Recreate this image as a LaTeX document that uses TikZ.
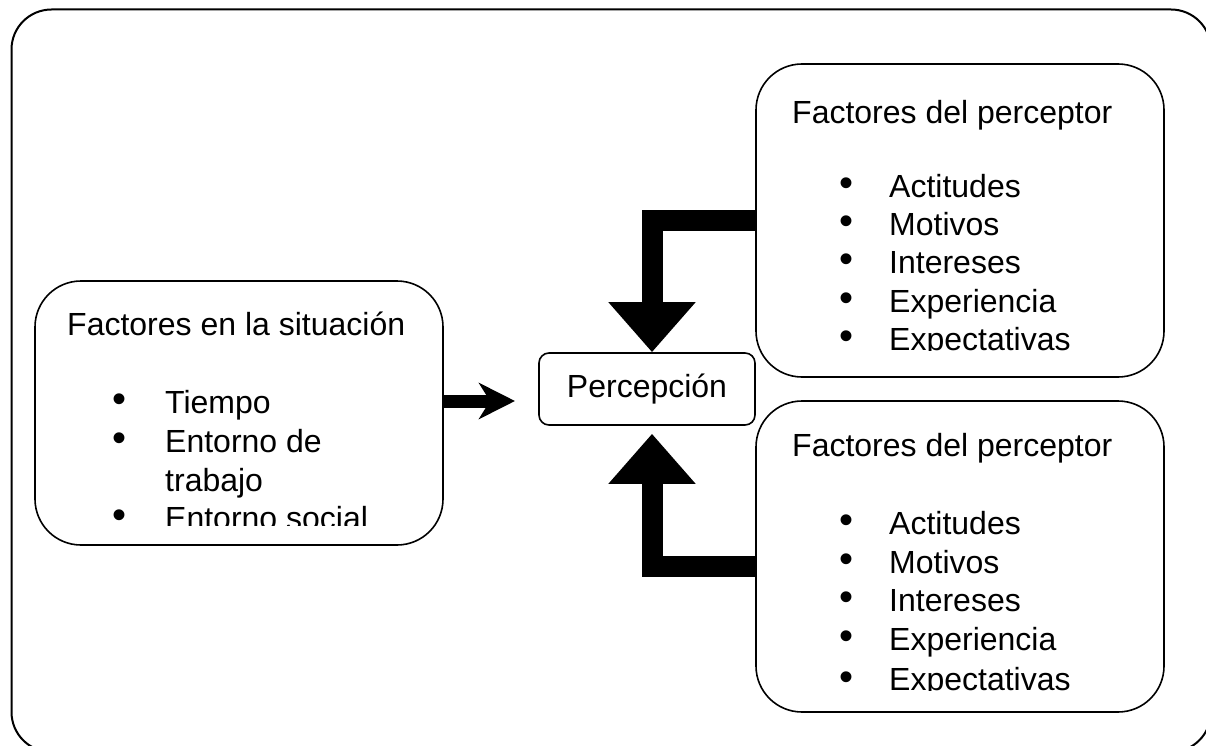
\documentclass[tikz,border=0pt]{standalone}
\usepackage{fontspec}
\setmainfont{Liberation Sans}
\usetikzlibrary{arrows.meta}
\begin{document}
\begin{tikzpicture}[x=1pt,y=-1pt,
  box/.style={draw, line width=1.6pt, rounded corners=46pt, inner sep=0pt},
  txt/.style={anchor=base west, inner sep=0pt, font=\fontsize{32}{38}\selectfont},
  bul/.style={anchor=center, inner sep=0pt, font=\fontsize{40}{40}\selectfont},
  bigarrow/.style={line width=21pt, -{Triangle[length=50pt,width=84pt]}},
  midarrow/.style={line width=13pt, -{Stealth[length=36pt,width=36pt,inset=11pt]}}]
\useasboundingbox (0,0) rectangle (1206,746);
\draw[line width=2pt, rounded corners=40pt] (11.5,9.5) rectangle (1211,752);

% boxes
\node[box, minimum width=408pt, minimum height=264pt] (sit) at (239,413) {};
\node[box, minimum width=408pt, minimum height=313pt] (p1) at (960,220.5) {};
\node[box, minimum width=408pt, minimum height=311pt] (p2) at (960,556.5) {};
\node[box, rounded corners=10pt, minimum width=216pt, minimum height=72pt,
      font=\fontsize{32}{38}\selectfont] (perc) at (647,389) {Percepción};

% texts of left box
\begin{scope}
\clip (0,0) rectangle (1206,525);
\node[txt] (sh) at (67,335) {Factores en la situación};
\node[bul] (sb1) at (120,403) {•};
\node[txt] (st1) at (165,413) {Tiempo};
\node[bul] (sb2) at (120,442) {•};
\node[txt] (st2) at (165,452) {Entorno de};
\node[txt] (st3) at (165,491) {trabajo};
\node[bul] (sb4) at (120,519) {•};
\node[txt] (st4) at (165,529) {Entorno social};
\end{scope}

% texts of top right box
\begin{scope}
\clip (0,0) rectangle (1206,350);
\node[txt] (ah) at (792,124) {Factores del perceptor};
\node[bul] (ab1) at (846,187) {•};
\node[txt] (at1) at (889,197) {Actitudes};
\node[bul] (ab2) at (846,225) {•};
\node[txt] (at2) at (889,235) {Motivos};
\node[bul] (ab3) at (846,263) {•};
\node[txt] (at3) at (889,273) {Intereses};
\node[bul] (ab4) at (846,302) {•};
\node[txt] (at4) at (889,312) {Experiencia};
\node[bul] (ab5) at (846,340) {•};
\node[txt] (at5) at (889,350) {Expectativas};
\end{scope}

% texts of bottom right box
\begin{scope}
\clip (0,0) rectangle (1206,690);
\node[txt] (bh) at (792,456) {Factores del perceptor};
\node[bul] (bb1) at (846,524) {•};
\node[txt] (bt1) at (889,534) {Actitudes};
\node[bul] (bb2) at (846,563) {•};
\node[txt] (bt2) at (889,573) {Motivos};
\node[bul] (bb3) at (846,601) {•};
\node[txt] (bt3) at (889,611) {Intereses};
\node[bul] (bb4) at (846,640) {•};
\node[txt] (bt4) at (889,650) {Experiencia};
\node[bul] (bb5) at (846,681) {•};
\node[txt] (bt5) at (889,690) {Expectativas};
\end{scope}

% connectors
\coordinate (ytop) at (0,220);
\coordinate (ybot) at (0,566.5);
\coordinate (yleft) at (0,401);
\coordinate (lend) at (515,401);
\draw[bigarrow] (p1.west |- ytop) -| ([xshift=5pt]perc.north);
\draw[bigarrow] (p2.west |- ybot) -| ([xshift=5pt,yshift=-8pt]perc.south);
\draw[midarrow] (sit.east |- yleft) -- (lend);
\end{tikzpicture}
\end{document}
